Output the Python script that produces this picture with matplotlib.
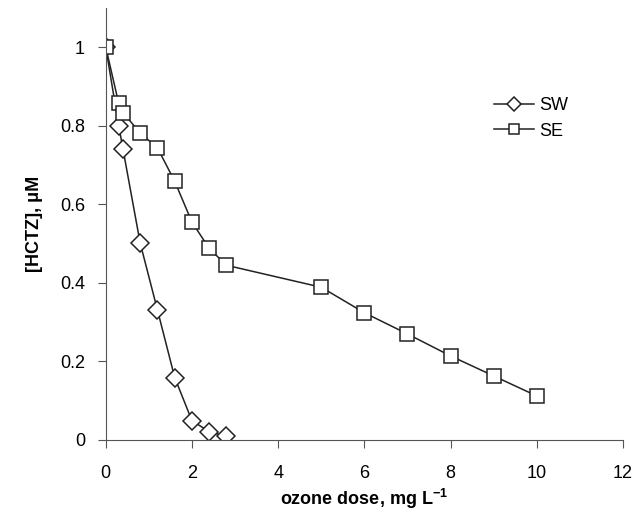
import matplotlib
matplotlib.use('Agg')
from matplotlib import pyplot as plt

plt.rcParams['font.family'] = ['Liberation Sans', 'DejaVu Sans']
plt.rcParams['mathtext.fontset'] = 'custom'
plt.rcParams['mathtext.rm'] = 'Liberation Sans'
plt.rcParams['mathtext.bf'] = 'Liberation Sans:bold'

# ozone dose (mg/L) and HCTZ concentration (uM)
sw_dose = [0, 0.3, 0.4, 0.8, 1.2, 1.6, 2.0, 2.4, 2.8]
sw_hctz = [1.0, 0.80, 0.74, 0.50, 0.33, 0.158, 0.048, 0.02, 0.008]

se_dose = [0, 0.3, 0.4, 0.8, 1.2, 1.6, 2.0, 2.4, 2.8, 5, 6, 7, 8, 9, 10]
se_hctz = [1.0, 0.857, 0.833, 0.781, 0.743, 0.658, 0.554, 0.487, 0.444,
           0.388, 0.323, 0.269, 0.213, 0.162, 0.111]

x_ticks = [0, 2, 4, 6, 8, 10, 12]
y_ticks = [0, 0.2, 0.4, 0.6, 0.8, 1.0]
y_labels = ['0', '0.2', '0.4', '0.6', '0.8', '1']

fig = plt.figure(figsize=(6.37, 5.22), dpi=100)
ax = fig.add_axes([0.166, 0.158, 0.812, 0.827])

col = '#222222'
ax.plot(sw_dose, sw_hctz, color=col, lw=1.1, marker='D', markersize=9,
        markerfacecolor='white', markeredgecolor=col, markeredgewidth=1.1, label='SW')
ax.plot(se_dose, se_hctz, color=col, lw=1.1, marker='s', markersize=10.5,
        markerfacecolor='white', markeredgecolor=col, markeredgewidth=1.1, label='SE')

ax.set_xlim(0, 12)
ax.set_ylim(0, 1.1)
ax.set_xticks(x_ticks)
ax.set_yticks(y_ticks)
ax.set_yticklabels(y_labels)
ax.spines['top'].set_visible(False)
ax.spines['right'].set_visible(False)
ax.spines['left'].set_color('#555555')
ax.spines['bottom'].set_color('#555555')
ax.tick_params(direction='out', length=6, color='#555555', labelsize=13)
ax.tick_params(axis='x', pad=12)
ax.tick_params(axis='y', pad=9)

ax.set_xlabel(r'ozone dose, mg L$^{\mathbf{-1}}$', fontsize=13, fontweight='bold', labelpad=4)
ax.set_ylabel('[HCTZ], μM', fontsize=13, fontweight='bold', labelpad=12)

leg = ax.legend(loc='upper left', bbox_to_anchor=(0.72, 0.83), frameon=False,
                fontsize=13, handlelength=2.2, handletextpad=0.3, labelspacing=0.45,
                markerscale=0.75)

fig.savefig('out.png', dpi=100)
